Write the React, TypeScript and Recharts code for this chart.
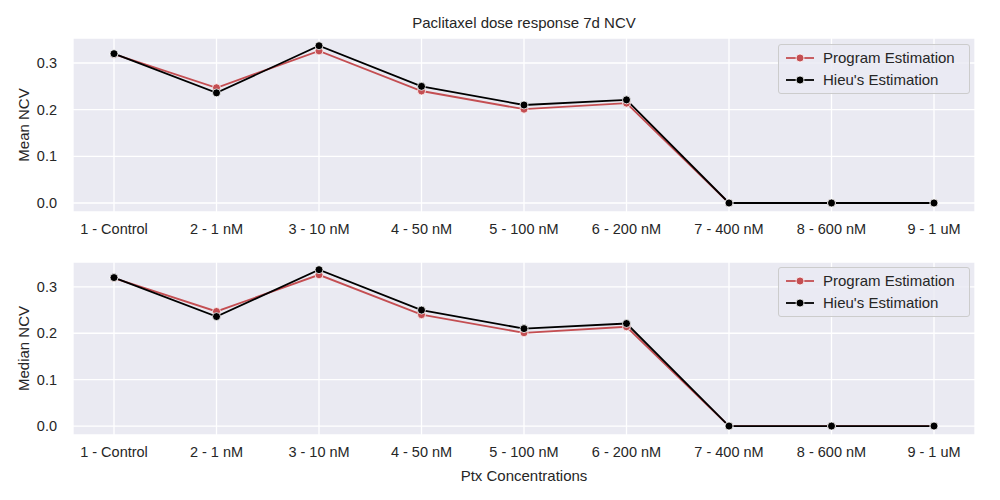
import React from 'react';
import { LineChart, Line, XAxis, YAxis, CartesianGrid } from 'recharts';

const categories = ['1 - Control','2 - 1 nM','3 - 10 nM','4 - 50 nM','5 - 100 nM','6 - 200 nM','7 - 400 nM','8 - 600 nM','9 - 1 uM'];
const programMean = [0.319,0.247,0.326,0.240,0.201,0.214,0,0,0];
const hieuMean = [0.320,0.236,0.337,0.250,0.210,0.221,0,0,0];
const programMedian = [0.319,0.247,0.326,0.240,0.201,0.214,0,0,0];
const hieuMedian = [0.320,0.236,0.337,0.250,0.210,0.221,0,0,0];
const yTicks = [0,0.1,0.2,0.3];

const RED = '#C44E52';
const FONT = 'Liberation Sans, Arial, sans-serif';
const tickStyle = { fill: '#262626', fontSize: 14.5, fontFamily: FONT };

const build = (a: number[], b: number[]) => categories.map((c, i) => ({ c, p: a[i], h: b[i] }));

const LegendBox = ({ top }: { top: number }) => (
  <div style={{ position: 'absolute', left: 778, top, width: 192, height: 50, background: 'rgba(234,234,242,0.8)', border: '1px solid #cccccc', borderRadius: 3, fontFamily: FONT, fontSize: 15, color: '#262626', boxSizing: 'border-box' }}>
    {[['Program Estimation', RED], ["Hieu's Estimation", '#000']].map(([t, col], i) => (
      <div key={t} style={{ position: 'absolute', left: 6, top: 4 + i * 22, display: 'flex', alignItems: 'center' }}>
        <svg width={30} height={12}><line x1={1} y1={6} x2={29} y2={6} stroke={col} strokeWidth={1.8} /><circle cx={15} cy={6} r={4} fill={col} stroke="#fff" strokeWidth={0.8} /></svg>
        <span style={{ marginLeft: 8 }}>{t}</span>
      </div>
    ))}
  </div>
);

const Panel = ({ data, label, height, marginTop, marginBottom, xLabel }: any) => (
  <LineChart width={1000} height={height} data={data} margin={{ top: marginTop, right: 25, left: 0, bottom: marginBottom }}>
    <CartesianGrid stroke="#fff" strokeWidth={1.3} fill="#EAEAF2" />
    <XAxis dataKey="c" scale="point" padding={{ left: 41, right: 41 }} axisLine={false} tickLine={false} tickMargin={6} tick={tickStyle} interval={0} height={xLabel ? 40 : 33}
      label={xLabel ? { value: xLabel, position: 'insideBottom', offset: -6, style: { fill: '#262626', fontSize: 15, fontFamily: FONT } } : undefined} />
    <YAxis type="number" domain={[-0.0193, 0.3536]} ticks={yTicks} tickFormatter={(v: number) => v.toFixed(1)} axisLine={false} tickLine={false} tickMargin={10} tick={tickStyle} width={73}
      label={{ value: label, angle: -90, position: 'insideLeft', offset: 24, style: { textAnchor: 'middle', fill: '#262626', fontSize: 15, fontFamily: FONT } }} />
    <Line dataKey="p" stroke={RED} strokeWidth={1.8} isAnimationActive={false} dot={{ r: 4, fill: RED, stroke: '#fff', strokeWidth: 0.8 }} />
    <Line dataKey="h" stroke="#000" strokeWidth={1.8} isAnimationActive={false} dot={{ r: 4, fill: '#000', stroke: '#fff', strokeWidth: 0.8 }} />
  </LineChart>
);

export default function App() {
  return (
    <div style={{ position: 'absolute', left: 0, top: 0, width: 1000, height: 500, background: '#fff' }}>
      <div style={{ position: 'absolute', left: 73, width: 902, top: 14, textAlign: 'center', fontFamily: FONT, fontSize: 15, color: '#262626' }}>Paclitaxel dose response 7d NCV</div>
      <div style={{ position: 'absolute', left: 0, top: 0 }}>
        <Panel data={build(programMean, hieuMean)} label="Mean NCV" height={245} marginTop={38} marginBottom={0} />
      </div>
      <div style={{ position: 'absolute', left: 0, top: 240 }}>
        <Panel data={build(programMedian, hieuMedian)} label="Median NCV" height={260} marginTop={22} marginBottom={25} xLabel="Ptx Concentrations" />
      </div>
      <LegendBox top={44} />
      <LegendBox top={267} />
    </div>
  );
}
